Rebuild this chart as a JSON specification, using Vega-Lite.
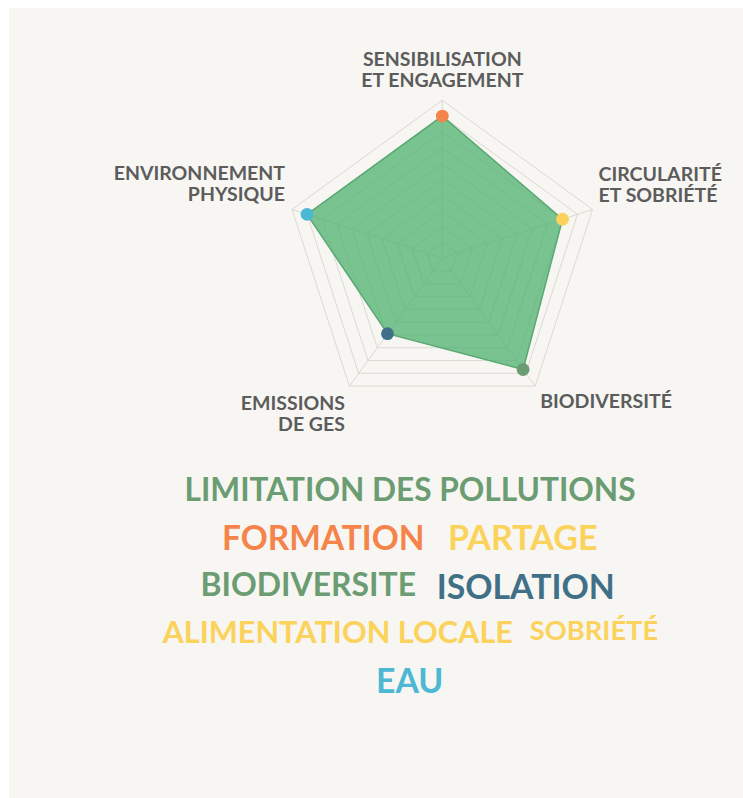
{
  "$schema": "https://vega.github.io/schema/vega-lite/v6.json",
  "width": 734,
  "height": 790,
  "autosize": {"type": "none"},
  "padding": {"left": 9, "top": 8, "right": 0, "bottom": 0},
  "background": "#ffffff",
  "config": {"view": {"stroke": null, "fill": "#f7f6f2"}, "text": {"font": "Lato"}},
  "datasets": {
    "axes": [
      {"axis": "SENSIBILISATION\nET ENGAGEMENT", "key": "sens", "idx": 0, "score": 9, "rings": [1,2,3,4,5,6,7,8,9,10]},
      {"axis": "CIRCULARITÉ\nET SOBRIÉTÉ", "key": "circ", "idx": 1, "score": 8, "rings": [1,2,3,4,5,6,7,8,9,10]},
      {"axis": "BIODIVERSITÉ", "key": "bio", "idx": 2, "score": 8.7, "rings": [1,2,3,4,5,6,7,8,9,10]},
      {"axis": "EMISSIONS\nDE GES", "key": "emis", "idx": 3, "score": 5.9, "rings": [1,2,3,4,5,6,7,8,9,10]},
      {"axis": "ENVIRONNEMENT\nPHYSIQUE", "key": "env", "idx": 4, "score": 9, "rings": [1,2,3,4,5,6,7,8,9,10]}
    ],
    "words": [
      {"word": "LIMITATION DES POLLUTIONS", "key": "bio", "weight": 10.2, "wx": -2.04, "wy": -14.77},
      {"word": "FORMATION", "key": "sens", "weight": 10.8, "wx": -7.53, "wy": -17.83},
      {"word": "PARTAGE", "key": "circ", "weight": 11, "wx": 5.09, "wy": -17.83},
      {"word": "BIODIVERSITE", "key": "bio", "weight": 10.3, "wx": -8.48, "wy": -20.74},
      {"word": "ISOLATION", "key": "emis", "weight": 10.9, "wx": 5.28, "wy": -20.93},
      {"word": "ALIMENTATION LOCALE", "key": "circ", "weight": 9.9, "wx": -6.62, "wy": -23.8},
      {"word": "SOBRIÉTÉ", "key": "circ", "weight": 8.8, "wx": 9.6, "wy": -23.63},
      {"word": "EAU", "key": "env", "weight": 10.9, "wx": -2.06, "wy": -26.86}
    ]
  },
  "layer": [
    {
      "data": {"name": "axes"},
      "transform": [
        {"flatten": ["rings"], "as": ["ring"]},
        {"calculate": "datum.idx*2*PI/5", "as": "ang"},
        {"calculate": "datum.ring*sin(datum.ang)", "as": "px"},
        {"calculate": "datum.ring*cos(datum.ang)", "as": "py"}
      ],
      "mark": {"type": "line", "interpolate": "linear-closed", "stroke": "#dcd9d3", "strokeWidth": 1},
      "encoding": {
        "x": {"field": "px", "type": "quantitative", "scale": {"domain": [-27.42, 19.03], "nice": false, "zero": false}, "axis": null},
        "y": {"field": "py", "type": "quantitative", "scale": {"domain": [-34.16, 15.84], "nice": false, "zero": false}, "axis": null},
        "detail": {"field": "ring", "type": "ordinal"},
        "order": {"field": "idx", "type": "quantitative"}
      }
    },
    {
      "data": {"name": "axes"},
      "transform": [
        {"calculate": "datum.idx*2*PI/5", "as": "ang"},
        {"calculate": "10*sin(datum.ang)", "as": "px"},
        {"calculate": "10*cos(datum.ang)", "as": "py"},
        {"calculate": "0", "as": "zero"}
      ],
      "mark": {"type": "rule", "stroke": "#dcd9d3", "strokeWidth": 1},
      "encoding": {
        "x": {"field": "zero", "type": "quantitative"},
        "y": {"field": "zero", "type": "quantitative"},
        "x2": {"field": "px"},
        "y2": {"field": "py"}
      }
    },
    {
      "data": {"name": "axes"},
      "transform": [
        {"calculate": "datum.idx*2*PI/5", "as": "ang"},
        {"calculate": "datum.score*sin(datum.ang)", "as": "px"},
        {"calculate": "datum.score*cos(datum.ang)", "as": "py"}
      ],
      "mark": {"type": "line", "interpolate": "linear-closed", "fill": "#4fb26f", "fillOpacity": 0.75, "stroke": "#5aa872", "strokeWidth": 1.5},
      "encoding": {
        "x": {"field": "px", "type": "quantitative"},
        "y": {"field": "py", "type": "quantitative"},
        "order": {"field": "idx", "type": "quantitative"}
      }
    },
    {
      "data": {"name": "axes"},
      "transform": [
        {"calculate": "datum.idx*2*PI/5", "as": "ang"},
        {"calculate": "datum.score*sin(datum.ang)", "as": "px"},
        {"calculate": "datum.score*cos(datum.ang)", "as": "py"}
      ],
      "mark": {"type": "circle", "size": 165, "opacity": 1},
      "encoding": {
        "x": {"field": "px", "type": "quantitative"},
        "y": {"field": "py", "type": "quantitative"},
        "color": {"field": "key", "type": "nominal", "legend": null,
          "scale": {"domain": ["sens", "circ", "bio", "emis", "env"], "range": ["#f5844a", "#fbd35c", "#6b9c72", "#3f7088", "#4db8d3"]}}
      }
    },
    {
      "data": {"name": "axes"},
      "transform": [
        {"filter": "datum.key == 'sens'"},
        {"calculate": "datum.idx*2*PI/5", "as": "ang"},
        {"calculate": "10*sin(datum.ang)", "as": "px"},
        {"calculate": "10*cos(datum.ang)", "as": "py"}
      ],
      "mark": {"type": "text", "align": "center", "baseline": "middle", "dy": -40, "fontSize": 19.5, "fontWeight": "bold", "color": "#5c5c5c", "lineBreak": "\n", "lineHeight": 21},
      "encoding": {"x": {"field": "px", "type": "quantitative"}, "y": {"field": "py", "type": "quantitative"}, "text": {"field": "axis"}}
    },
    {
      "data": {"name": "axes"},
      "transform": [
        {"filter": "datum.key == 'circ'"},
        {"calculate": "datum.idx*2*PI/5", "as": "ang"},
        {"calculate": "10*sin(datum.ang)", "as": "px"},
        {"calculate": "10*cos(datum.ang)", "as": "py"}
      ],
      "mark": {"type": "text", "align": "left", "baseline": "middle", "dx": 6, "dy": -34, "fontSize": 19.5, "fontWeight": "bold", "color": "#5c5c5c", "lineBreak": "\n", "lineHeight": 21},
      "encoding": {"x": {"field": "px", "type": "quantitative"}, "y": {"field": "py", "type": "quantitative"}, "text": {"field": "axis"}}
    },
    {
      "data": {"name": "axes"},
      "transform": [
        {"filter": "datum.key == 'bio'"},
        {"calculate": "datum.idx*2*PI/5", "as": "ang"},
        {"calculate": "10*sin(datum.ang)", "as": "px"},
        {"calculate": "10*cos(datum.ang)", "as": "py"}
      ],
      "mark": {"type": "text", "align": "left", "baseline": "middle", "dx": 5, "dy": 16, "fontSize": 19.5, "fontWeight": "bold", "color": "#5c5c5c", "lineBreak": "\n", "lineHeight": 21},
      "encoding": {"x": {"field": "px", "type": "quantitative"}, "y": {"field": "py", "type": "quantitative"}, "text": {"field": "axis"}}
    },
    {
      "data": {"name": "axes"},
      "transform": [
        {"filter": "datum.key == 'emis'"},
        {"calculate": "datum.idx*2*PI/5", "as": "ang"},
        {"calculate": "10*sin(datum.ang)", "as": "px"},
        {"calculate": "10*cos(datum.ang)", "as": "py"}
      ],
      "mark": {"type": "text", "align": "right", "baseline": "middle", "dx": -4.5, "dy": 18, "fontSize": 19.5, "fontWeight": "bold", "color": "#5c5c5c", "lineBreak": "\n", "lineHeight": 21},
      "encoding": {"x": {"field": "px", "type": "quantitative"}, "y": {"field": "py", "type": "quantitative"}, "text": {"field": "axis"}}
    },
    {
      "data": {"name": "axes"},
      "transform": [
        {"filter": "datum.key == 'env'"},
        {"calculate": "datum.idx*2*PI/5", "as": "ang"},
        {"calculate": "10*sin(datum.ang)", "as": "px"},
        {"calculate": "10*cos(datum.ang)", "as": "py"}
      ],
      "mark": {"type": "text", "align": "right", "baseline": "middle", "dx": -7, "dy": -35, "fontSize": 19.5, "fontWeight": "bold", "color": "#5c5c5c", "lineBreak": "\n", "lineHeight": 21},
      "encoding": {"x": {"field": "px", "type": "quantitative"}, "y": {"field": "py", "type": "quantitative"}, "text": {"field": "axis"}}
    },
    {
      "data": {"name": "words"},
      "mark": {"type": "text", "align": "center", "baseline": "middle", "fontWeight": "bold"},
      "encoding": {
        "x": {"field": "wx", "type": "quantitative"},
        "y": {"field": "wy", "type": "quantitative"},
        "text": {"field": "word"},
        "color": {"field": "key", "type": "nominal", "legend": null},
        "size": {"field": "weight", "type": "quantitative", "legend": null, "scale": {"domain": [0, 10], "range": [0, 31]}}
      }
    }
  ]
}
